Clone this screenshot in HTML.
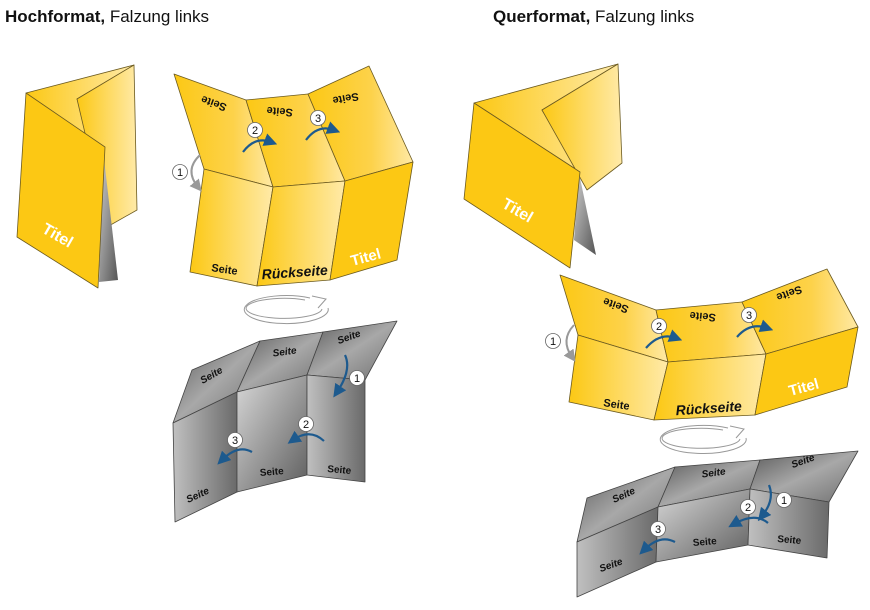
<!DOCTYPE html>
<html><head><meta charset="utf-8"><style>
html,body{margin:0;padding:0;background:#fff}
svg{display:block}
text{font-family:"Liberation Sans",sans-serif}
</style></head><body>
<svg width="870" height="610" viewBox="0 0 870 610" xmlns="http://www.w3.org/2000/svg">
<defs>
<linearGradient id="y1" x1="0" y1="0" x2="1" y2="0"><stop offset="0" stop-color="#fcc814"/><stop offset="1" stop-color="#ffeaa8"/></linearGradient>
<linearGradient id="y2" x1="0" y1="0" x2="1" y2="0"><stop offset="0" stop-color="#fcc814"/><stop offset="0.6" stop-color="#fdd24a"/><stop offset="1" stop-color="#ffe9a5"/></linearGradient>
<linearGradient id="g1" x1="0" y1="0" x2="1" y2="1"><stop offset="0" stop-color="#5a5a5a"/><stop offset="0.5" stop-color="#a8a8a8"/><stop offset="1" stop-color="#707070"/></linearGradient>
<linearGradient id="g2" x1="0" y1="0" x2="1" y2="1"><stop offset="0" stop-color="#d8d8d8"/><stop offset="1" stop-color="#5e5e5e"/></linearGradient>
<linearGradient id="g3" x1="0" y1="0" x2="1" y2="0"><stop offset="0" stop-color="#c0c0c0"/><stop offset="1" stop-color="#6a6a6a"/></linearGradient>
<linearGradient id="gt" x1="0" y1="0" x2="1" y2="1"><stop offset="0" stop-color="#d0d0d0"/><stop offset="1" stop-color="#555"/></linearGradient>
<marker id="ab" markerWidth="6" markerHeight="6" refX="3" refY="3" orient="auto"><path d="M0,0 L6,3 L0,6z" fill="#1d5a8e"/></marker>
<marker id="ag" markerWidth="6" markerHeight="6" refX="3" refY="3" orient="auto"><path d="M0,0 L6,3 L0,6z" fill="#999"/></marker>
</defs>
<text x="5" y="22" font-size="17" fill="#111"><tspan font-weight="bold">Hochformat,</tspan> Falzung links</text>
<text x="493" y="22" font-size="17" fill="#111"><tspan font-weight="bold">Querformat,</tspan> Falzung links</text>

<g stroke="#6b5a20" stroke-width="0.8" stroke-linejoin="round">
<!-- left small brochure -->
<polygon points="26,93 134,65 77,99 103,150" fill="url(#y1)"/>
<polygon points="77,99 134,65 137,210 107,227" fill="url(#y1)"/>
<polygon points="103,150 118,280 99,282" fill="url(#gt)" stroke="none"/>
<polygon points="26,93 105,147 98,288 17,237" fill="#fcc814"/>

<!-- middle yellow -->
<polygon points="174,74 246,100 273,187 204,169" fill="url(#y2)"/>
<polygon points="246,100 308,94 345,181 273,187" fill="url(#y2)"/>
<polygon points="308,94 369,66 413,162 345,181" fill="url(#y2)"/>
<polygon points="204,169 273,187 257,286 190,272" fill="url(#y1)"/>
<polygon points="273,187 345,181 330,280 257,286" fill="url(#y1)"/>
<polygon points="345,181 413,162 397,260 330,280" fill="#fcc814"/>

<!-- right small brochure -->
<polygon points="474,103 618,64 542,110 580,172" fill="url(#y1)"/>
<polygon points="542,110 618,64 622,163 587,190" fill="url(#y1)"/>
<polygon points="579,173 596,255 574,240" fill="url(#gt)" stroke="none"/>
<polygon points="474,103 580,172 570,268 464,199" fill="#fcc814"/>

<!-- right yellow -->
<polygon points="560,275 656,310 668,362 578,335" fill="url(#y2)"/>
<polygon points="656,310 742,302 766,354 668,362" fill="url(#y2)"/>
<polygon points="742,302 827,269 858,327 766,354" fill="url(#y2)"/>
<polygon points="578,335 668,362 654,420 569,402" fill="url(#y1)"/>
<polygon points="668,362 766,354 755,415 654,420" fill="url(#y1)"/>
<polygon points="766,354 858,327 847,387 755,415" fill="#fcc814"/>
</g>

<g stroke="#444" stroke-width="0.8" stroke-linejoin="round">
<!-- left grey -->
<polygon points="192,370 260,341 237,392 173,423" fill="url(#g1)"/>
<polygon points="260,341 323,332 307,375 237,392" fill="url(#g1)"/>
<polygon points="323,332 397,321 365,380 307,375" fill="url(#g1)"/>
<polygon points="173,423 237,392 237,492 175,522" fill="url(#g3)"/>
<polygon points="237,392 307,375 307,475 237,492" fill="url(#g2)"/>
<polygon points="307,375 365,380 365,482 307,475" fill="url(#g3)"/>
<!-- right grey -->
<polygon points="587,498 675,467 658,507 577,542" fill="url(#g1)"/>
<polygon points="675,467 760,460 750,489 658,507" fill="url(#g1)"/>
<polygon points="760,460 858,451 829,502 750,489" fill="url(#g1)"/>
<polygon points="577,542 658,507 656,562 577,597" fill="url(#g3)"/>
<polygon points="658,507 750,489 748,545 656,562" fill="url(#g2)"/>
<polygon points="750,489 829,502 827,558 748,545" fill="url(#g3)"/>
</g>

<!-- rotation ellipses -->
<g fill="none" stroke="#999" stroke-width="1">
<path d="M310,298 A42,14 0 1 0 328,308"/>
<path d="M305,300 A38,10 0 1 0 322,309"/>
<path d="M312,296 L326,299 L318,308" fill="#fff"/>
<path d="M728,428 A43,14 0 1 0 746,438"/>
<path d="M723,430 A39,10 0 1 0 740,439"/>
<path d="M730,426 L744,429 L736,438" fill="#fff"/>
</g>

<!-- labels -->
<g font-weight="bold" font-size="11" fill="#111">
<text transform="translate(215,100) rotate(200)" text-anchor="middle">Seite</text>
<text transform="translate(280,108) rotate(185)" text-anchor="middle">Seite</text>
<text transform="translate(345,95) rotate(170)" text-anchor="middle">Seite</text>
<text transform="translate(224,273) rotate(8)" text-anchor="middle" font-size="11">Seite</text>
<text transform="translate(295,277) rotate(-4)" text-anchor="middle" font-size="14" font-style="italic">Rückseite</text>
<text transform="translate(367,262) rotate(-15)" text-anchor="middle" font-size="15" fill="#fff">Titel</text>
<text transform="translate(55,240) rotate(30)" text-anchor="middle" font-size="16" fill="#fff">Titel</text>
<text transform="translate(515,215) rotate(30)" text-anchor="middle" font-size="16" fill="#fff">Titel</text>
<text transform="translate(617,302) rotate(200)" text-anchor="middle">Seite</text>
<text transform="translate(703,313) rotate(185)" text-anchor="middle">Seite</text>
<text transform="translate(788,290) rotate(160)" text-anchor="middle">Seite</text>
<text transform="translate(616,408) rotate(8)" text-anchor="middle">Seite</text>
<text transform="translate(709,413) rotate(-4)" text-anchor="middle" font-size="14" font-style="italic">Rückseite</text>
<text transform="translate(805,392) rotate(-15)" text-anchor="middle" font-size="15" fill="#fff">Titel</text>
</g>
<g font-size="10" fill="#111" font-style="italic" font-weight="bold">
<text transform="translate(213,378) rotate(-30)" text-anchor="middle">Seite</text>
<text transform="translate(285,355) rotate(-8)" text-anchor="middle">Seite</text>
<text transform="translate(350,340) rotate(-20)" text-anchor="middle">Seite</text>
<text transform="translate(625,498) rotate(-25)" text-anchor="middle">Seite</text>
<text transform="translate(714,476) rotate(-8)" text-anchor="middle">Seite</text>
<text transform="translate(804,464) rotate(-20)" text-anchor="middle">Seite</text>
</g>
<g font-size="10" fill="#111" font-weight="bold">
<text transform="translate(199,498) rotate(-25)" text-anchor="middle" font-style="italic">Seite</text>
<text transform="translate(272,475) rotate(-5)" text-anchor="middle">Seite</text>
<text transform="translate(339,473) rotate(5)" text-anchor="middle">Seite</text>
<text transform="translate(612,568) rotate(-20)" text-anchor="middle" font-style="italic">Seite</text>
<text transform="translate(705,545) rotate(-5)" text-anchor="middle">Seite</text>
<text transform="translate(789,543) rotate(5)" text-anchor="middle">Seite</text>
</g>

<!-- arrows -->
<g fill="none" stroke="#1d5a8e" stroke-width="2.2">
<path d="M243,152 Q255,136 271,142" marker-end="url(#ab)"/>
<path d="M306,140 Q318,124 334,130" marker-end="url(#ab)"/>
<path d="M345,355 Q352,370 337,392" marker-end="url(#ab)"/>
<path d="M324,441 Q310,428 293,440" marker-end="url(#ab)"/>
<path d="M252,452 Q238,444 222,460" marker-end="url(#ab)"/>
<path d="M646,348 Q660,332 676,338" marker-end="url(#ab)"/>
<path d="M737,337 Q750,322 767,328" marker-end="url(#ab)"/>
<path d="M769,485 Q775,500 762,516" marker-end="url(#ab)"/>
<path d="M768,523 Q755,512 734,524" marker-end="url(#ab)"/>
<path d="M675,542 Q660,534 644,550" marker-end="url(#ab)"/>
</g>
<g fill="none" stroke="#999" stroke-width="2">
<path d="M200,155 Q184,170 198,187" marker-end="url(#ag)"/>
<path d="M574,325 Q560,340 572,357" marker-end="url(#ag)"/>
</g>

<!-- circles -->
<g font-size="11" text-anchor="middle" fill="#111">
<g stroke="#666" stroke-width="0.8" fill="#fff">
<circle cx="180" cy="172" r="7.5"/><circle cx="255" cy="130" r="7.5"/><circle cx="318" cy="118" r="7.5"/>
<circle cx="357" cy="378" r="7.5"/><circle cx="306" cy="424" r="7.5"/><circle cx="235" cy="440" r="7.5"/>
<circle cx="553" cy="341" r="7.5"/><circle cx="659" cy="326" r="7.5"/><circle cx="749" cy="315" r="7.5"/>
<circle cx="784" cy="500" r="7.5"/><circle cx="748" cy="507" r="7.5"/><circle cx="658" cy="529" r="7.5"/>
</g>
<text x="180" y="176">1</text><text x="255" y="134">2</text><text x="318" y="122">3</text>
<text x="357" y="382">1</text><text x="306" y="428">2</text><text x="235" y="444">3</text>
<text x="553" y="345">1</text><text x="659" y="330">2</text><text x="749" y="319">3</text>
<text x="784" y="504">1</text><text x="748" y="511">2</text><text x="658" y="533">3</text>
</g>
</svg>
</body></html>
